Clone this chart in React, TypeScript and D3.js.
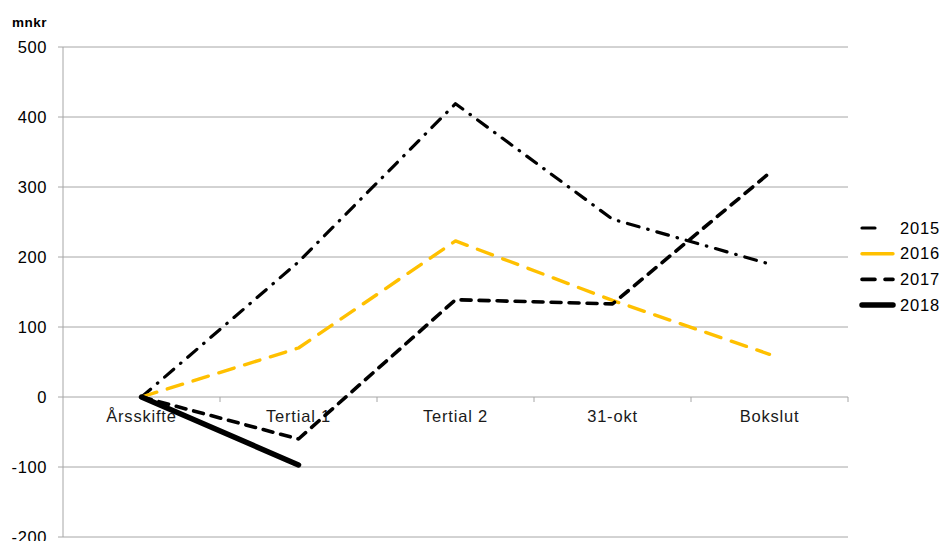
import * as d3 from "d3";

const categories = ["Årsskifte", "Tertial 1", "Tertial 2", "31-okt", "Bokslut"];
const yTicks = [-200, -100, 0, 100, 200, 300, 400, 500];

const v2015 = [0, 193, 419, 254, 190];
const v2016 = [0, 70, 223, 138, 61];
const v2017 = [0, -60, 139, 133, 320];
const v2018 = [0, -97];

const seriesList = [
  { name: "2015", values: v2015, color: "#000000", width: 3.2, dash: "12 9 0.5 9", legendDash: "13 40" },
  { name: "2016", values: v2016, color: "#FFC000", width: 3.4, dash: "16 11", legendDash: "" },
  { name: "2017", values: v2017, color: "#000000", width: 3.6, dash: "10 8", legendDash: "13 10" },
  { name: "2018", values: v2018, color: "#000000", width: 5.5, dash: "", legendDash: "" },
];

export default function App() {
  const width = 942;
  const height = 541;
  const marginLeft = 63;
  const marginRight = 94;
  const marginTop = 47;
  const plotBottom = 537;

  const x = d3.scaleBand(categories, [marginLeft, width - marginRight]);
  const y = d3.scaleLinear([-200, 500], [plotBottom, marginTop]);
  const cx = (i: number) => (x(categories[i]) as number) + x.bandwidth() / 2;

  const line = d3.line<number>((_, i) => cx(i), (d) => y(d));
  const font = "'Liberation Sans', Arial, sans-serif";
  const gridColor = "#a6a6a6";

  return (
    <svg width={width} height={height} style={{ position: "absolute", left: 0, top: 0 }} fontFamily={font}>
      <rect width={width} height={height} fill="#fff" />
      {yTicks.map((t) => (
        <g key={t}>
          <line x1={marginLeft - 5} x2={width - marginRight} y1={y(t)} y2={y(t)} stroke={gridColor} strokeWidth={1} />
          <text x={marginLeft - 16} y={y(t)} dy="0.35em" textAnchor="end" fontSize={16.5} letterSpacing={0.6} fill="#000">{t}</text>
        </g>
      ))}
      <line x1={marginLeft} x2={marginLeft} y1={marginTop} y2={plotBottom} stroke={gridColor} strokeWidth={1} />
      {categories.map((c, i) => (
        <g key={c}>
          {i > 0 && (
            <line x1={x(c) as number} x2={x(c) as number} y1={y(0)} y2={y(0) + 5} stroke={gridColor} />
          )}
          <text x={cx(i)} y={y(0) + 25} textAnchor="middle" fontSize={16.5} letterSpacing={0.8} fill="#1a1a1a">{c}</text>
        </g>
      ))}
      <line x1={width - marginRight} x2={width - marginRight} y1={y(0)} y2={y(0) + 5} stroke={gridColor} />
      <text x={12} y={27} fontSize={13.5} fontWeight="bold" letterSpacing={0.5} fill="#000">mnkr</text>
      {seriesList.map((s) => (
        <path
          key={s.name}
          d={line(s.values) ?? ""}
          fill="none"
          stroke={s.color}
          strokeWidth={s.width}
          strokeDasharray={s.dash || undefined}
          strokeLinecap="round"
          strokeLinejoin="round"
        />
      ))}
      {seriesList.map((s, i) => {
        const ly = 228 + i * 25.7;
        return (
          <g key={s.name}>
            <line x1={862} x2={893} y1={ly} y2={ly} stroke={s.color} strokeWidth={s.width} strokeDasharray={s.legendDash || undefined} strokeLinecap="round" />
            <text x={900} y={ly} dy="0.35em" fontSize={16.5} letterSpacing={0.8} fill="#000">{s.name}</text>
          </g>
        );
      })}
    </svg>
  );
}
